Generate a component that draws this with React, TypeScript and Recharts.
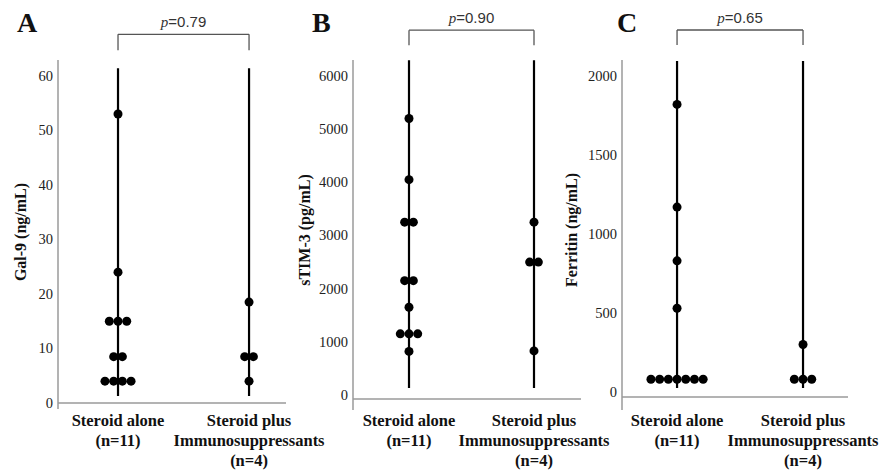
import React from 'react';
import { ScatterChart, Scatter, XAxis, YAxis, ReferenceLine } from 'recharts';

// ---------- data ----------
const categoryIds = [1, 2];
const categoryLabels = [
  ['Steroid alone', '(n=11)'],
  ['Steroid plus', 'Immunosuppressants', '(n=4)'],
];
const panelLetters = ['A', 'B', 'C'];
const yLabels = ['Gal-9 (ng/mL)', 'sTIM-3 (pg/mL)', 'Ferritin (ng/mL)'];
const pValues = ['0.79', '0.90', '0.65'];

const gal9Alone = [53, 24, 15, 15, 15, 8.5, 8.5, 4, 4, 4, 4];
const gal9Plus = [18.5, 8.5, 8.5, 4];
const stim3Alone = [5200, 4050, 3250, 3250, 2150, 2150, 1650, 1150, 1150, 1150, 820];
const stim3Plus = [3250, 2500, 2500, 830];
const ferritinAlone = [1820, 1170, 830, 530, 80, 80, 80, 80, 80, 80, 80];
const ferritinPlus = [300, 80, 80, 80];

const gal9Ticks = [0, 10, 20, 30, 40, 50, 60];
const stim3Ticks = [0, 1000, 2000, 3000, 4000, 5000, 6000];
const ferritinTicks = [0, 500, 1000, 1500, 2000];

// ---------- helpers ----------
const SERIF = '"Liberation Serif", "Times New Roman", serif';
const SANS = '"Liberation Sans", Arial, sans-serif';
const AXIS_GRAY = '#9a9a9a';

function swarm(values: number[], cat: number) {
  const counts = new Map<number, number>();
  values.forEach((v) => counts.set(v, (counts.get(v) || 0) + 1));
  const seen = new Map<number, number>();
  return values.map((v) => {
    const n = counts.get(v) as number;
    const k = seen.get(v) || 0;
    seen.set(v, k + 1);
    return { x: cat, y: v, slot: k - (n - 1) / 2 };
  });
}

const Dot = (props: any) => {
  const { cx, cy, payload } = props;
  if (cx == null || cy == null) return null;
  return <circle cx={cx + payload.slot * 8.7} cy={cy} r={4.5} fill="#000" />;
};

const CatTick = (props: any) => {
  const { x, payload } = props;
  const lines = categoryLabels[payload.value - 1] || [];
  return (
    <text textAnchor="middle" fontFamily={SERIF} fontWeight="bold" fontSize={16.5} fill="#111">
      {lines.map((l, i) => (
        <tspan key={i} x={x} y={426 + i * 20}>
          {l}
        </tspan>
      ))}
    </text>
  );
};

const NumTick = (props: any) => {
  const { x, y, payload } = props;
  return (
    <text x={x} y={y} dy={5} textAnchor="end" fontFamily={SERIF} fontSize={14.5} fill="#222">
      {payload.value}
    </text>
  );
};

interface PanelCfg {
  left: number;
  width: number;
  margin: { top: number; right: number; bottom: number; left: number };
  yAxisWidth: number;
  xDomain: [number, number];
  yDomain: [number, number];
  ticks: number[];
  stem: [number, number];
  axisBottom: number;
  bracketTop: number;
  bracketFoot: number;
  labelX: number;
  labelY: number;
  alone: number[];
  plus: number[];
  yLabel: string;
  p: string;
}

const panels: PanelCfg[] = [
  {
    left: 0, width: 340,
    margin: { top: 60, right: 54, bottom: 8, left: 0 }, yAxisWidth: 58,
    xDomain: [0.542, 2.282], yDomain: [0, 62.9], ticks: gal9Ticks,
    stem: [1.3, 61.4], axisBottom: -1.1, bracketTop: 67.6, bracketFoot: 64.7,
    labelX: 20, labelY: 232,
    alone: gal9Alone, plus: gal9Plus, yLabel: yLabels[0], p: pValues[0],
  },
  {
    left: 295, width: 340,
    margin: { top: 60, right: 54, bottom: 12, left: 0 }, yAxisWidth: 58,
    xDomain: [0.552, 2.376], yDomain: [-75, 6300], ticks: stim3Ticks,
    stem: [132, 6297], axisBottom: -282, bracketTop: 6861, bracketFoot: 6579,
    labelX: 9, labelY: 230,
    alone: stim3Alone, plus: stim3Plus, yLabel: yLabels[1], p: pValues[1],
  },
  {
    left: 555, width: 332,
    margin: { top: 60, right: 39, bottom: 14, left: 0 }, yAxisWidth: 67,
    xDomain: [0.563, 2.357], yDomain: [-32, 2101], ticks: ferritinTicks,
    stem: [25, 2095], axisBottom: -114, bracketTop: 2291, bracketFoot: 2196,
    labelX: 16, labelY: 230,
    alone: ferritinAlone, plus: ferritinPlus, yLabel: yLabels[2], p: pValues[2],
  },
];

const Panel = ({ cfg }: { cfg: PanelCfg }) => {
  const aloneData = swarm(cfg.alone, 1);
  const plusData = swarm(cfg.plus, 2);
  const yLabel = () => (
    <text
      x={cfg.labelX}
      y={cfg.labelY}
      transform={`rotate(-90, ${cfg.labelX}, ${cfg.labelY})`}
      textAnchor="middle"
      dominantBaseline="central"
      fontFamily={SERIF}
      fontWeight="bold"
      fontSize={16}
      fill="#111"
    >
      {cfg.yLabel}
    </text>
  );
  const pLabel = (props: any) => {
    const vb = props.viewBox || {};
    const cx = (vb.x || 0) + (vb.width || 0) / 2;
    const y = (vb.y || 0) - 7;
    return (
      <text x={cx} y={y} textAnchor="middle" fontSize={15} fill="#333">
        <tspan fontFamily={SERIF} fontStyle="italic">p</tspan>
        <tspan fontFamily={SANS}>={cfg.p}</tspan>
      </text>
    );
  };
  return (
    <div style={{ position: 'absolute', left: cfg.left, top: 0 }}>
      <ScatterChart width={cfg.width} height={471} margin={cfg.margin}>
        <XAxis
          type="number"
          dataKey="x"
          domain={cfg.xDomain}
          ticks={categoryIds}
          allowDataOverflow
          interval={0}
          axisLine={{ stroke: AXIS_GRAY, strokeWidth: 1.5 }}
          tickLine={false}
          height={60}
          tick={<CatTick />}
        />
        <YAxis
          type="number"
          dataKey="y"
          domain={cfg.yDomain}
          ticks={cfg.ticks}
          allowDataOverflow
          interval={0}
          axisLine={false}
          tickLine={false}
          tickSize={0}
          tickMargin={5}
          width={cfg.yAxisWidth}
          tick={<NumTick />}
          label={yLabel}
        />
        <ReferenceLine
          segment={[{ x: cfg.xDomain[0], y: cfg.axisBottom }, { x: cfg.xDomain[0], y: cfg.yDomain[1] }]}
          stroke={AXIS_GRAY}
          strokeWidth={1.5}
          ifOverflow="visible"
        />
        {categoryIds.map((c) => (
          <ReferenceLine
            key={`stem-${c}`}
            segment={[{ x: c, y: cfg.stem[0] }, { x: c, y: cfg.stem[1] }]}
            stroke="#000"
            strokeWidth={2.2}
            ifOverflow="visible"
          />
        ))}
        <ReferenceLine
          segment={[{ x: 1, y: cfg.bracketTop }, { x: 2, y: cfg.bracketTop }]}
          stroke="#555"
          strokeWidth={1.3}
          ifOverflow="visible"
          label={pLabel}
        />
        {categoryIds.map((c) => (
          <ReferenceLine
            key={`foot-${c}`}
            segment={[{ x: c, y: cfg.bracketTop }, { x: c, y: cfg.bracketFoot }]}
            stroke="#555"
            strokeWidth={1.3}
            ifOverflow="visible"
          />
        ))}
        <Scatter data={aloneData} shape={Dot} isAnimationActive={false} />
        <Scatter data={plusData} shape={Dot} isAnimationActive={false} />
      </ScatterChart>
    </div>
  );
};

const letterX = [17, 312, 617];

export default function App() {
  return (
    <div style={{ position: 'absolute', left: 0, top: 0, width: 887, height: 471, background: '#fff' }}>
      {panels.map((cfg, i) => (
        <Panel key={i} cfg={cfg} />
      ))}
      <svg width={887} height={471} style={{ position: 'absolute', left: 0, top: 0, pointerEvents: 'none' }}>
        {panelLetters.map((l, i) => (
          <text key={l} x={letterX[i]} y={32} fontFamily={SERIF} fontWeight="bold" fontSize={28} fill="#111">
            {l}
          </text>
        ))}
      </svg>
    </div>
  );
}
